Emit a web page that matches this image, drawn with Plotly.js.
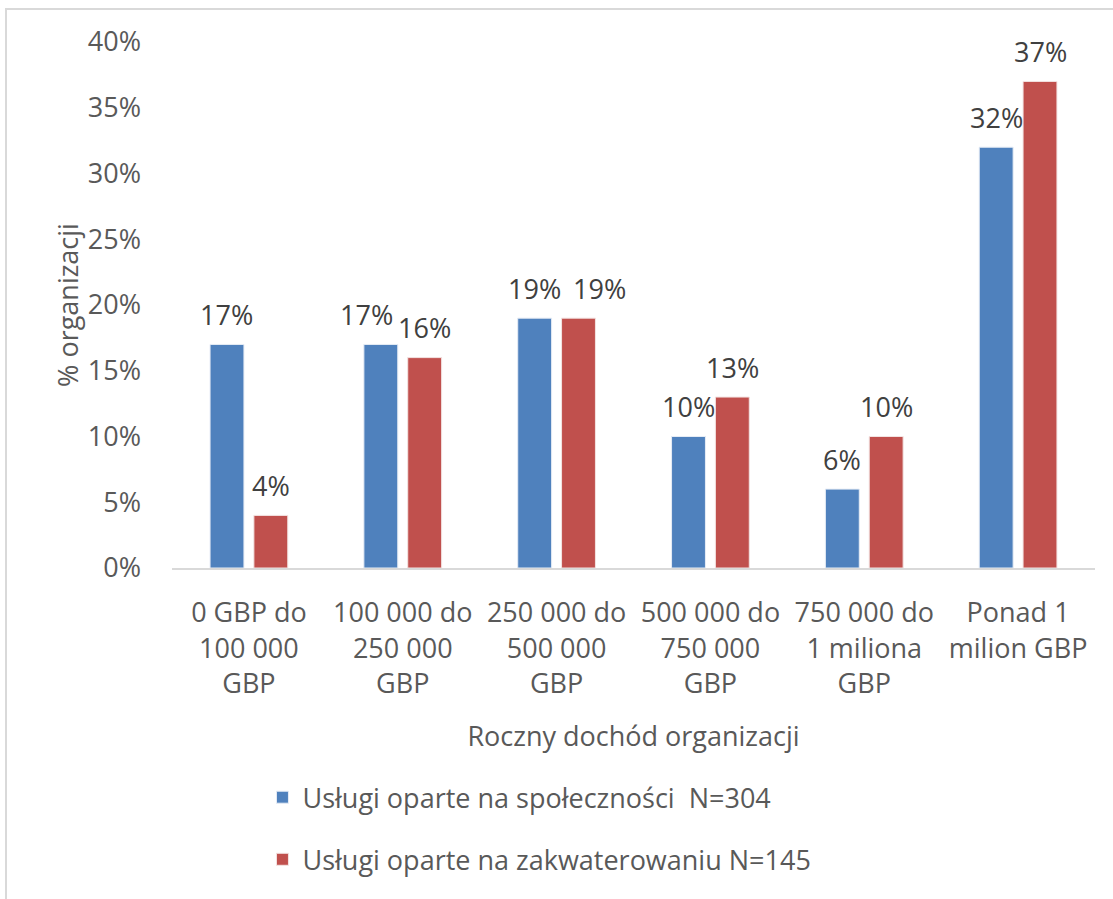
<!DOCTYPE html>
<html>
<head>
<meta charset="utf-8">
<script src="https://cdn.plot.ly/plotly-3.0.1.min.js"></script>
<style>
  html, body { margin: 0; padding: 0; background: #ffffff; }
  #wrap { position: relative; width: 1113px; height: 899px; }
  #chart { position: absolute; left: 0; top: 0; width: 1113px; height: 899px; }
  #frame { position: absolute; left: 5px; top: 8px; width: 1120px; height: 900px;
           border-left: 2px solid #d9d9d9; border-top: 2px solid #d9d9d9; pointer-events: none; }
</style>
</head>
<body>
<div id="wrap">
  <div id="chart"></div>
  <div id="frame"></div>
</div>
<script>
// Annual income bands
const categories = [
  "0 GBP do<br>100 000<br>GBP",
  "100 000 do<br>250 000<br>GBP",
  "250 000 do<br>500 000<br>GBP",
  "500 000 do<br>750 000<br>GBP",
  "750 000 do<br>1 miliona<br>GBP",
  "Ponad 1<br>milion GBP"
];

// Share of organisations in each band
const communityName = "Usługi oparte na społeczności  N=304";
const communityValues = [0.17, 0.17, 0.19, 0.10, 0.06, 0.32];

const housingName = "Usługi oparte na zakwaterowaniu N=145";
const housingValues = [0.04, 0.16, 0.19, 0.13, 0.10, 0.37];

const BLUE = "#4f81bd";
const RED = "#c0504d";
const FONT = "Open Sans, Noto Sans, sans-serif";

const traces = [
  {
    type: "bar", name: communityName, x: categories, y: communityValues,
    marker: { color: BLUE, line: { color: "#e6ecf5", width: 1 } },
    legendgroup: "a", hoverinfo: "skip"
  },
  {
    type: "bar", name: housingName, x: categories, y: housingValues,
    marker: { color: RED, line: { color: "#f3e3e2", width: 1 } },
    legendgroup: "b", hoverinfo: "skip"
  }
];

// Value labels above each bar; labels at nearly the same height are pushed apart
const pct = v => Math.round(v * 100) + "%";
const labelFont = { family: FONT, size: 27, color: "#404040" };
const annotations = [];
categories.forEach((c, i) => {
  const a = communityValues[i], b = housingValues[i];
  let dxA = 0, dxB = 0;
  if (Math.abs(a - b) < 0.015) {
    if (a === b) dxB = 21; else dxA = -14;
  }
  annotations.push({
    x: c, y: a, xref: "x", yref: "y", text: pct(a), showarrow: false,
    xshift: -22 + dxA, yshift: 30, yanchor: "middle", font: labelFont
  });
  annotations.push({
    x: c, y: b, xref: "x", yref: "y", text: pct(b), showarrow: false,
    xshift: 22 + dxB, yshift: 30, yanchor: "middle", font: labelFont
  });
});

const layout = {
  width: 1113, height: 899,
  margin: { l: 172, r: 18, t: 42, b: 331 },
  paper_bgcolor: "#ffffff", plot_bgcolor: "#ffffff",
  font: { family: FONT, size: 27, color: "#595959" },
  barmode: "group",
  bargap: 0.43,
  bargroupgap: 0.227,
  showlegend: true,
  legend: {
    x: 0.098, xanchor: "left", y: -0.39, yanchor: "top",
    orientation: "v", traceorder: "grouped", tracegroupgap: 24,
    font: { family: FONT, size: 27, color: "#595959" },
    bgcolor: "rgba(0,0,0,0)"
  },
  xaxis: {
    type: "category",
    showline: true, linecolor: "#d9d9d9", linewidth: 2,
    showgrid: false, zeroline: false, ticks: "",
    ticklabelstandoff: 20,
    tickfont: { family: FONT, size: 27, color: "#595959" },
    title: { text: "Roczny dochód organizacji", standoff: 28,
             font: { family: FONT, size: 27, color: "#595959" } },
    automargin: true
  },
  yaxis: {
    range: [0, 0.4], dtick: 0.05, tickformat: ".0%",
    showline: false, showgrid: false, zeroline: false, ticks: "",
    ticklabelstandoff: 30,
    tickfont: { family: FONT, size: 27, color: "#595959" },
    title: { text: "% organizacji", font: { family: FONT, size: 27, color: "#595959" } },
    automargin: false
  },
  annotations: annotations
};

Plotly.newPlot("chart", traces, layout, { staticPlot: true, displayModeBar: false });
</script>
</body>
</html>
